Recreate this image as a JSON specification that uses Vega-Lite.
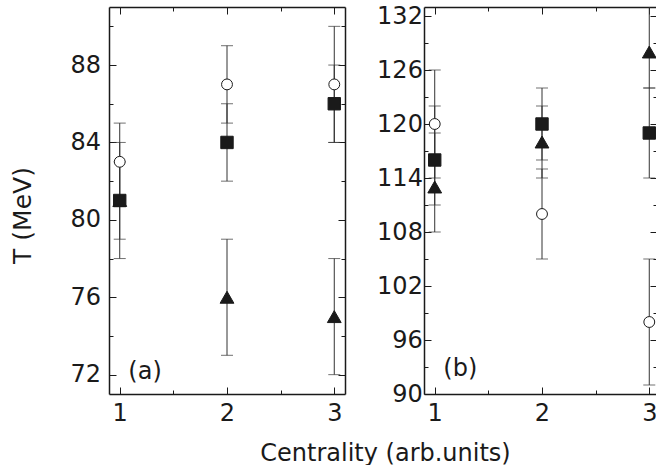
{
  "$schema": "https://vega.github.io/schema/vega-lite/v6.json",
  "padding": {"left": 10, "top": 4, "right": 0, "bottom": 0},
  "bounds": "flush",
  "spacing": 79,
  "background": "white",
  "config": {
    "view": {"stroke": null},
    "font": "DejaVu Sans",
    "axis": {
      "labelFont": "DejaVu Sans", "titleFont": "DejaVu Sans",
      "labelFontSize": 24, "titleFontSize": 25,
      "labelColor": "#1a1a1a", "titleColor": "#1a1a1a",
      "titleFontWeight": "normal",
      "domainColor": "#1a1a1a", "domainWidth": 1.5,
      "tickColor": "#1a1a1a", "tickWidth": 1,
      "grid": false, "labelOverlap": false, "labelFlush": false
    }
  },
  "data": {"values": [
    {"panel": "a", "x": 1, "series": "triangle", "T": 81, "lo": 79, "hi": 83},
    {"panel": "a", "x": 2, "series": "triangle", "T": 76, "lo": 73, "hi": 79},
    {"panel": "a", "x": 3, "series": "triangle", "T": 75, "lo": 72, "hi": 78},
    {"panel": "a", "x": 1, "series": "square", "T": 81, "lo": 78, "hi": 84},
    {"panel": "a", "x": 2, "series": "square", "T": 84, "lo": 82, "hi": 86},
    {"panel": "a", "x": 3, "series": "square", "T": 86, "lo": 84, "hi": 88},
    {"panel": "a", "x": 1, "series": "circle", "T": 83, "lo": 81, "hi": 85},
    {"panel": "a", "x": 2, "series": "circle", "T": 87, "lo": 85, "hi": 89},
    {"panel": "a", "x": 3, "series": "circle", "T": 87, "lo": 84, "hi": 90},
    {"panel": "b", "x": 1, "series": "triangle", "T": 113, "lo": 108, "hi": 119},
    {"panel": "b", "x": 2, "series": "triangle", "T": 118, "lo": 114, "hi": 122},
    {"panel": "b", "x": 3, "series": "triangle", "T": 128, "lo": 124, "hi": 134},
    {"panel": "b", "x": 1, "series": "square", "T": 116, "lo": 111, "hi": 122},
    {"panel": "b", "x": 2, "series": "square", "T": 120, "lo": 116, "hi": 124},
    {"panel": "b", "x": 3, "series": "square", "T": 119, "lo": 114, "hi": 124},
    {"panel": "b", "x": 1, "series": "circle", "T": 120, "lo": 114, "hi": 126},
    {"panel": "b", "x": 2, "series": "circle", "T": 110, "lo": 105, "hi": 115},
    {"panel": "b", "x": 3, "series": "circle", "T": 98, "lo": 91, "hi": 105}
  ]},
  "hconcat": [
    {
      "width": 236, "height": 387,
      "transform": [{"filter": "datum.panel === 'a'"}],
      "resolve": {"axis": {"x": "independent", "y": "independent"}},
      "layer": [
        {
          "mark": {"type": "rule", "color": "#333", "strokeWidth": 1, "clip": true},
          "encoding": {
            "x": {"field": "x", "type": "quantitative",
              "scale": {"domain": [0.9, 3.1], "nice": false, "zero": false},
              "axis": {"orient": "bottom", "values": [1, 1.5, 2, 2.5, 3],
                "labelExpr": "datum.value % 1 === 0 ? format(datum.value, 'd') : ''",
                "tickSize": {"condition": {"test": "datum.value % 1 !== 0", "value": -4}, "value": -7},
                "labelPadding": 14,
                "title": "Centrality (arb.units)", "titleX": 276, "titleY": 66, "titleFontSize": 24,
                "titleAlign": "center", "titleBaseline": "alphabetic"}},
            "y": {"field": "lo", "type": "quantitative",
              "scale": {"domain": [71, 91], "nice": false, "zero": false},
              "axis": {"orient": "left", "values": [72, 74, 76, 78, 80, 82, 84, 86, 88, 90],
                "labelExpr": "datum.value % 4 === 0 ? datum.label : ''",
                "tickSize": {"condition": {"test": "datum.value % 4 !== 0", "value": -4}, "value": -7},
                "labelPadding": 15.5,
                "title": "T (MeV)", "titleX": -74, "titleY": 208, "titleAngle": -90,
                "titleAlign": "center", "titleBaseline": "bottom"}},
            "y2": {"field": "hi"}
          }
        },
        {
          "mark": {"type": "tick", "orient": "horizontal", "size": 12, "thickness": 1, "color": "#333", "clip": true},
          "encoding": {
            "x": {"field": "x", "type": "quantitative", "axis": null},
            "y": {"field": "lo", "type": "quantitative", "axis": null}
          }
        },
        {
          "mark": {"type": "tick", "orient": "horizontal", "size": 12, "thickness": 1, "color": "#333", "clip": true},
          "encoding": {
            "x": {"field": "x", "type": "quantitative", "axis": null},
            "y": {"field": "hi", "type": "quantitative", "axis": null}
          }
        },
        {
          "mark": {"type": "point", "filled": true, "stroke": "#1a1a1a", "strokeWidth": 1, "opacity": 1},
          "encoding": {
            "x": {"field": "x", "type": "quantitative",
              "axis": {"orient": "top", "values": [1, 1.5, 2, 2.5, 3], "labels": false, "title": null,
                "tickSize": {"condition": {"test": "datum.value % 1 !== 0", "value": -4}, "value": -7}}},
            "y": {"field": "T", "type": "quantitative",
              "axis": {"orient": "right", "values": [72, 74, 76, 78, 80, 82, 84, 86, 88, 90], "labels": false, "title": null,
                "tickSize": {"condition": {"test": "datum.value % 4 !== 0", "value": -4}, "value": -7}}},
            "shape": {"field": "series", "type": "nominal", "legend": null,
              "scale": {"domain": ["triangle", "square", "circle"], "range": ["triangle-up", "square", "circle"]}},
            "fill": {"field": "series", "type": "nominal", "legend": null,
              "scale": {"domain": ["triangle", "square", "circle"], "range": ["#1a1a1a", "#1a1a1a", "#ffffff"]}},
            "size": {"field": "series", "type": "nominal", "legend": null,
              "scale": {"domain": ["triangle", "square", "circle"], "range": [190, 118, 150]}}
          }
        },
        {
          "transform": [{"filter": "datum.x === 1 && datum.series === 'circle'"}],
          "mark": {"type": "text", "align": "left", "baseline": "alphabetic", "font": "DejaVu Sans", "fontWeight": "normal", "fontSize": 24, "color": "#1a1a1a"},
          "encoding": {
            "x": {"datum": 1.08, "type": "quantitative", "axis": null},
            "y": {"datum": 71.8, "type": "quantitative", "axis": null},
            "text": {"value": "(a)"}
          }
        }
      ]
    },
    {
      "width": 233, "height": 387,
      "transform": [{"filter": "datum.panel === 'b'"}],
      "resolve": {"axis": {"x": "independent", "y": "independent"}},
      "layer": [
        {
          "mark": {"type": "rule", "color": "#333", "strokeWidth": 1, "clip": true},
          "encoding": {
            "x": {"field": "x", "type": "quantitative",
              "scale": {"domain": [0.9, 3.072], "nice": false, "zero": false},
              "axis": {"orient": "bottom", "values": [1, 1.5, 2, 2.5, 3],
                "labelExpr": "datum.value % 1 === 0 ? format(datum.value, 'd') : ''",
                "tickSize": {"condition": {"test": "datum.value % 1 !== 0", "value": -4}, "value": -7},
                "labelPadding": 14, "title": null}},
            "y": {"field": "lo", "type": "quantitative",
              "scale": {"domain": [90, 133], "nice": false, "zero": false},
              "axis": {"orient": "left", "values": [90, 93, 96, 99, 102, 105, 108, 111, 114, 117, 120, 123, 126, 129, 132],
                "labelExpr": "(datum.value - 90) % 6 === 0 ? datum.label : ''",
                "tickSize": {"condition": {"test": "(datum.value - 90) % 6 !== 0", "value": -4}, "value": -7},
                "labelPadding": 8.6, "title": null}},
            "y2": {"field": "hi"}
          }
        },
        {
          "mark": {"type": "tick", "orient": "horizontal", "size": 12, "thickness": 1, "color": "#333", "clip": true},
          "encoding": {
            "x": {"field": "x", "type": "quantitative", "axis": null},
            "y": {"field": "lo", "type": "quantitative", "axis": null}
          }
        },
        {
          "mark": {"type": "tick", "orient": "horizontal", "size": 12, "thickness": 1, "color": "#333", "clip": true},
          "encoding": {
            "x": {"field": "x", "type": "quantitative", "axis": null},
            "y": {"field": "hi", "type": "quantitative", "axis": null}
          }
        },
        {
          "mark": {"type": "point", "filled": true, "stroke": "#1a1a1a", "strokeWidth": 1, "opacity": 1},
          "encoding": {
            "x": {"field": "x", "type": "quantitative",
              "axis": {"orient": "top", "values": [1, 1.5, 2, 2.5, 3], "labels": false, "title": null,
                "tickSize": {"condition": {"test": "datum.value % 1 !== 0", "value": -4}, "value": -7}}},
            "y": {"field": "T", "type": "quantitative",
              "axis": {"orient": "right", "domain": false, "values": [90, 93, 96, 99, 102, 105, 108, 111, 114, 117, 120, 123, 126, 129, 132], "labels": false, "title": null,
                "tickSize": {"condition": {"test": "(datum.value - 90) % 6 !== 0", "value": -4}, "value": -7}}},
            "shape": {"field": "series", "type": "nominal", "legend": null,
              "scale": {"domain": ["triangle", "square", "circle"], "range": ["triangle-up", "square", "circle"]}},
            "fill": {"field": "series", "type": "nominal", "legend": null,
              "scale": {"domain": ["triangle", "square", "circle"], "range": ["#1a1a1a", "#1a1a1a", "#ffffff"]}},
            "size": {"field": "series", "type": "nominal", "legend": null,
              "scale": {"domain": ["triangle", "square", "circle"], "range": [190, 118, 150]}}
          }
        },
        {
          "transform": [{"filter": "datum.x === 1 && datum.series === 'circle'"}],
          "mark": {"type": "text", "align": "left", "baseline": "alphabetic", "font": "DejaVu Sans", "fontWeight": "normal", "fontSize": 24, "color": "#1a1a1a"},
          "encoding": {
            "x": {"datum": 1.08, "type": "quantitative", "axis": null},
            "y": {"datum": 92.0, "type": "quantitative", "axis": null},
            "text": {"value": "(b)"}
          }
        }
      ]
    }
  ]
}
